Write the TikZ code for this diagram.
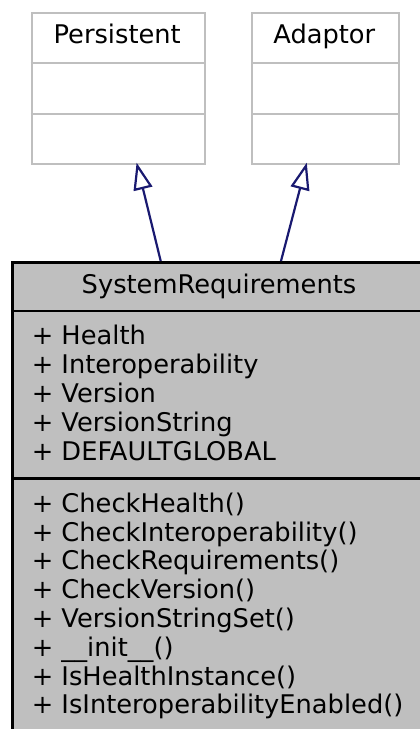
\documentclass[tikz,border=0pt]{standalone}
\usepackage{fontspec}
\setmainfont{DejaVu Sans}
\usetikzlibrary{arrows.meta,calc}
\definecolor{boxgray}{RGB}{191,191,191}
\definecolor{edgeblue}{RGB}{25,25,112}
\tikzset{
  lightbox/.style={draw=boxgray, line width=2.4pt, fill=white, rectangle, inner sep=0pt, anchor=north west},
  lightrule/.style={draw=boxgray, line width=2.4pt},
  mainbox/.style={draw=black, line width=2.8pt, fill=boxgray, rectangle, inner sep=0pt, anchor=north west},
  mainrule/.style={draw=black, line width=2.6pt},
  lbl/.style={inner sep=0pt, font=\fontsize{25.7}{29}\selectfont, text=black},
  member/.style={lbl, anchor=base west},
  inh/.style={draw=edgeblue, line width=2.2pt, shorten >=-2.5pt, -{Triangle[open, length=27pt, width=19pt, line width=2.2pt]}},
}
\begin{document}
\begin{tikzpicture}[x=1pt, y=-1pt]
\useasboundingbox (0,0) rectangle (420,729);
\clip (0,0) rectangle (420,729);
% parent classes
\node[lightbox, minimum width=173pt, minimum height=151pt] (per) at (30.7,11.7) {};
\draw[lightrule] ($(per.north west)!1/3!(per.south west)$) -- ($(per.north east)!1/3!(per.south east)$);
\draw[lightrule] ($(per.north west)!2/3!(per.south west)$) -- ($(per.north east)!2/3!(per.south east)$);
\node[lbl, anchor=base] (pertitle) at (117.2,43.3) {Persistent};
\node[lightbox, minimum width=146.7pt, minimum height=151pt] (ada) at (251,11.7) {};
\draw[lightrule] ($(ada.north west)!1/3!(ada.south west)$) -- ($(ada.north east)!1/3!(ada.south east)$);
\draw[lightrule] ($(ada.north west)!2/3!(ada.south west)$) -- ($(ada.north east)!2/3!(ada.south east)$);
\node[lbl, anchor=base] (adatitle) at (324.3,43.3) {Adaptor};
% main class
\node[mainbox, minimum width=416pt, minimum height=480pt] (sr) at (11,261) {};
\draw[mainrule] ([yshift=-50pt]sr.north west) -- ([yshift=-50pt]sr.north east);
\draw[mainrule] ([yshift=-217.7pt]sr.north west) -- ([yshift=-217.7pt]sr.north east);
\node[lbl, anchor=base] (srtitle) at (219,293) {SystemRequirements};
\node[member] (a1) at (31.6,344.3) {+ Health};
\node[member] (a2) at (31.6,373.3) {+ Interoperability};
\node[member] (a3) at (31.6,402.3) {+ Version};
\node[member] (a4) at (31.6,431.3) {+ VersionString};
\node[member] (a5) at (31.6,460.3) {+ DEFAULTGLOBAL};
\node[member] (m1) at (31.6,512.3) {+ CheckHealth()};
\node[member] (m2) at (31.6,541.1) {+ CheckInteroperability()};
\node[member] (m3) at (31.6,569.9) {+ CheckRequirements()};
\node[member] (m4) at (31.6,598.7) {+ CheckVersion()};
\node[member] (m5) at (31.6,627.5) {+ VersionStringSet()};
\node[member] (m6) at (31.6,656.3) {+ \_\_init\_\_()};
\node[member] (m7) at (31.6,685.1) {+ IsHealthInstance()};
\node[member] (m8) at (31.6,713.9) {+ IsInteroperabilityEnabled()};
% inheritance
\draw[inh] ([xshift=149.7pt]sr.north west) -- ([xshift=18.8pt]per.south);
\draw[inh] ([xshift=270pt]sr.north west) -- ([xshift=-19.4pt]ada.south);
\end{tikzpicture}
\end{document}
